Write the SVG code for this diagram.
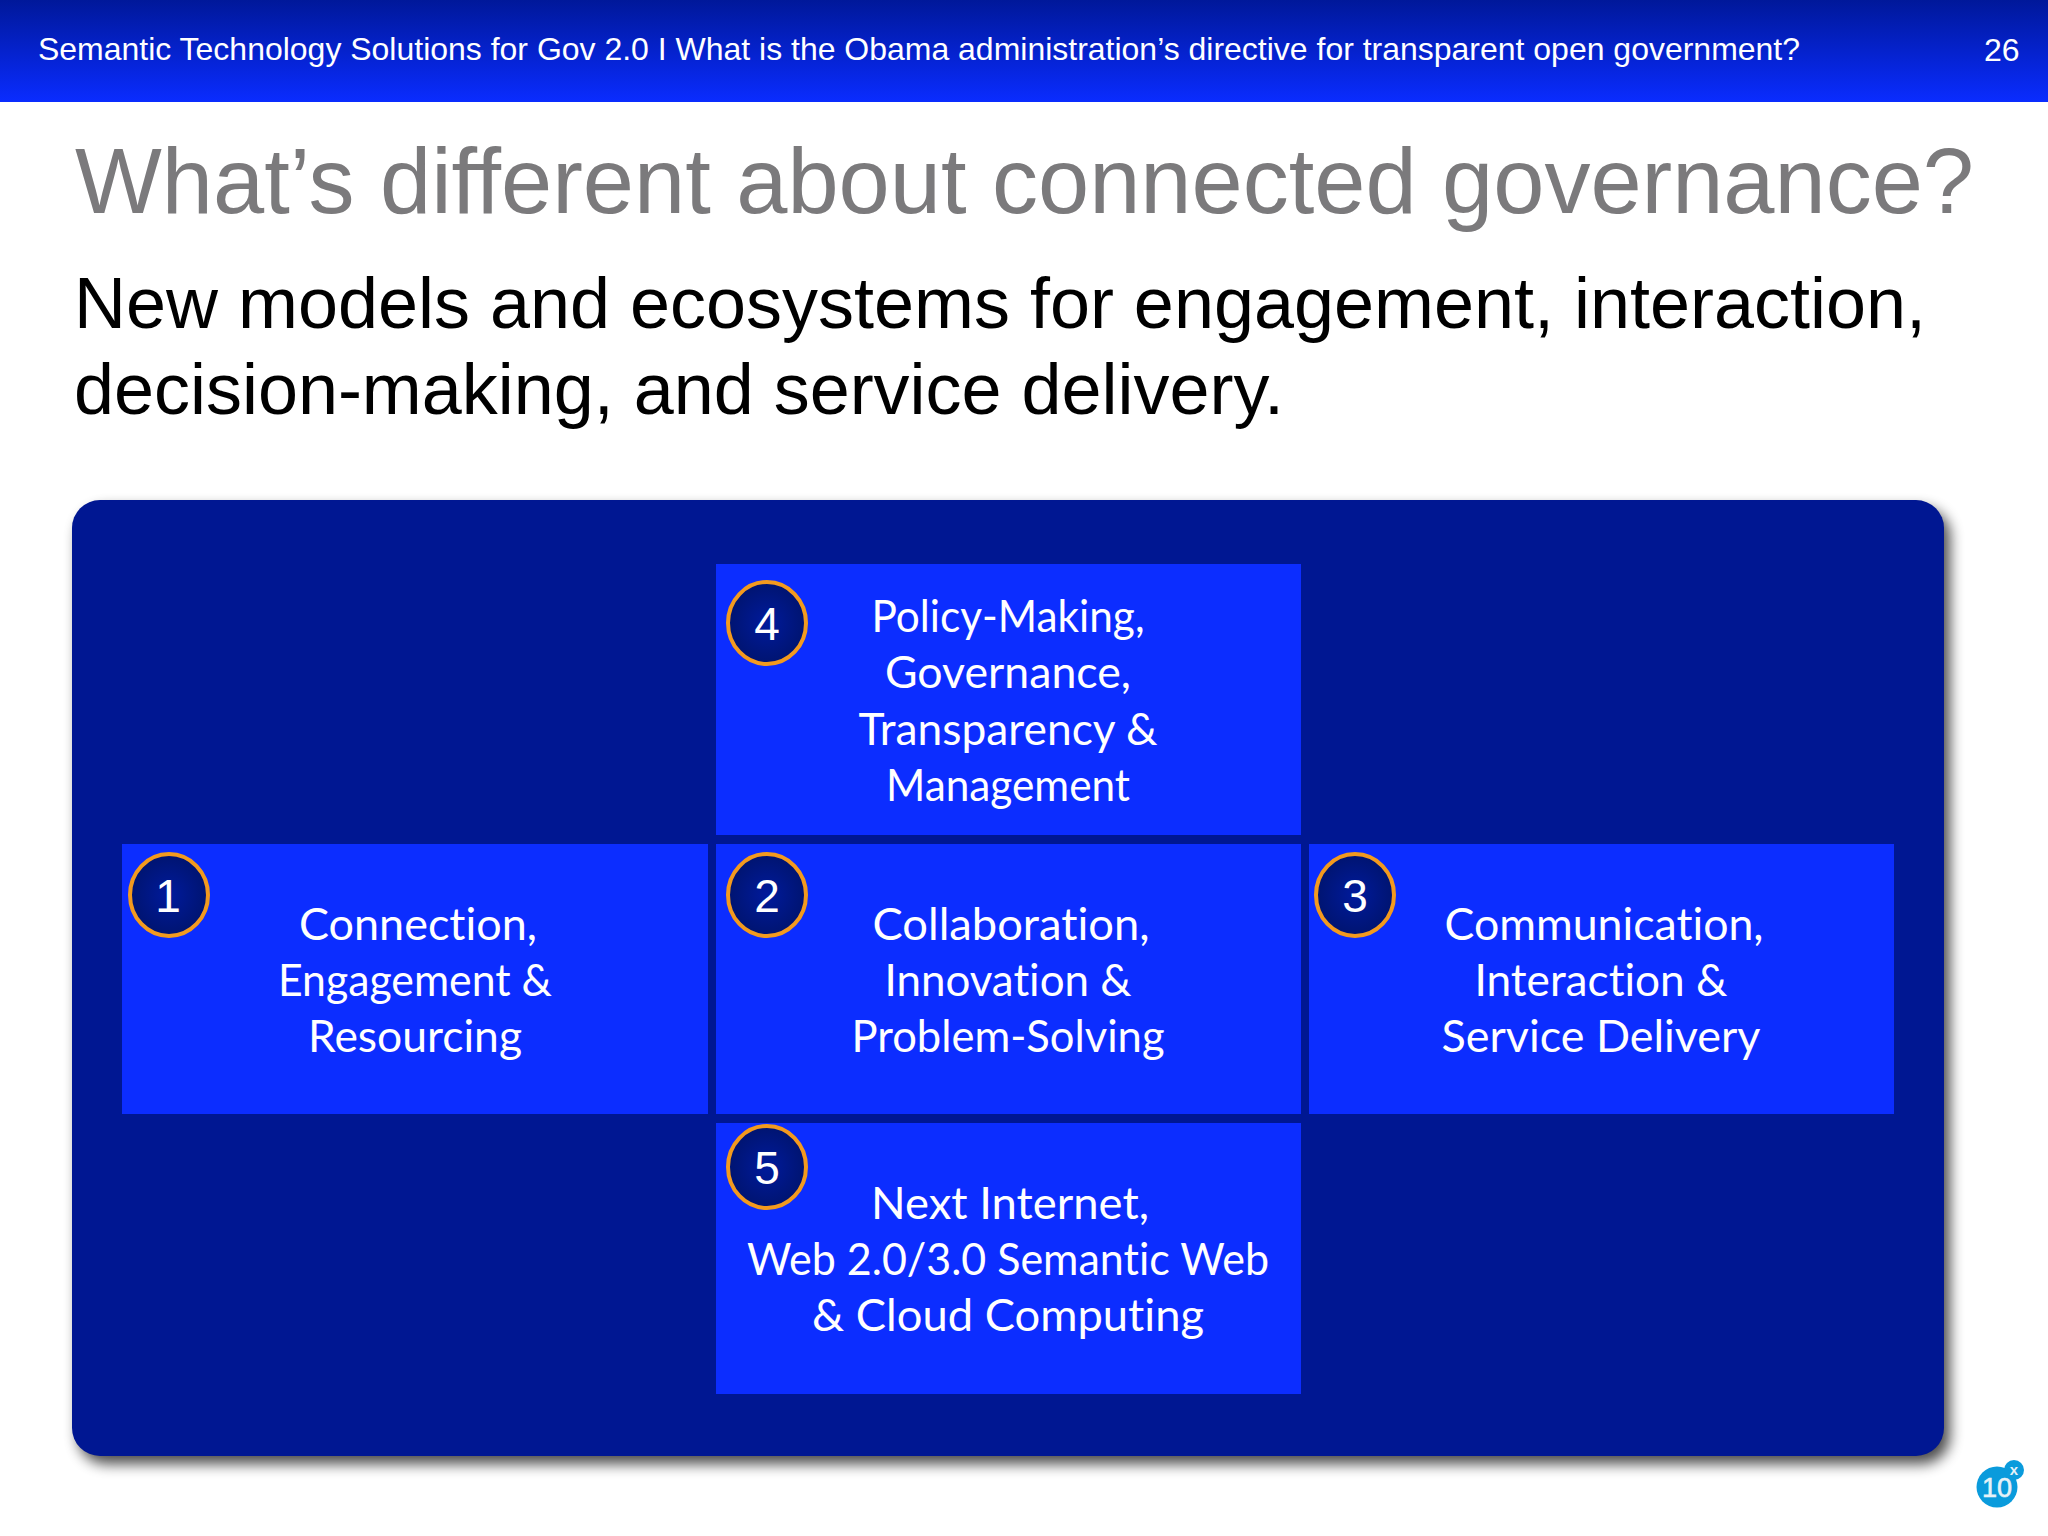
<svg xmlns="http://www.w3.org/2000/svg" width="2048" height="1536" viewBox="0 0 2048 1536">
<defs>
<linearGradient id="hdr" x1="0" y1="0" x2="0" y2="1"><stop offset="0" stop-color="#00189a"/><stop offset="1" stop-color="#0a2cff"/></linearGradient>
<radialGradient id="cg" cx="0.5" cy="0.5" r="0.5"><stop offset="0" stop-color="#001a9c"/><stop offset="1" stop-color="#001470"/></radialGradient>
<filter id="sh" x="-5%" y="-5%" width="110%" height="110%"><feGaussianBlur stdDeviation="7"/></filter>
</defs>
<style>
.sans{font-family:"Liberation Sans",Arial,sans-serif}
.box{fill:#0c2dff}
.lbl{font-family:"Lato","Noto Sans",sans-serif;font-size:45px;fill:#fff;text-anchor:middle;font-variant-ligatures:none}
.c{fill:url(#cg);stroke:#f39a1e;stroke-width:4}
.n{font-family:"Liberation Sans",Arial,sans-serif;font-size:46px;fill:#fff;text-anchor:middle}
</style>
<rect width="2048" height="1536" fill="#fff"/>
<g id="header">
<rect width="2048" height="102" fill="url(#hdr)"/>
<text class="sans" x="38" y="60" font-size="32" fill="#fff" textLength="1762" lengthAdjust="spacingAndGlyphs">Semantic Technology Solutions for Gov 2.0 I What is the Obama administration’s directive for transparent open government?</text>
<text class="sans" x="1984" y="61" font-size="32" fill="#fff">26</text>
</g>
<text class="sans" x="75" y="213" font-size="92" fill="#7b7a7c" textLength="1899" lengthAdjust="spacingAndGlyphs">What’s different about connected governance?</text>
<text class="sans" x="74" y="328" font-size="72" fill="#000" textLength="1852" lengthAdjust="spacingAndGlyphs">New models and ecosystems for engagement, interaction,</text>
<text class="sans" x="74" y="414" font-size="72" fill="#000" textLength="1210" lengthAdjust="spacingAndGlyphs">decision-making, and service delivery.</text>
<g id="panel">
<rect x="78" y="508" width="1872" height="956" rx="28" fill="#000" opacity="0.7" filter="url(#sh)"/>
<rect x="72" y="500" width="1872" height="956" rx="28" fill="#001792"/>
</g>
<g id="node4"><rect class="box" x="716" y="564" width="585" height="271"/>
<text class="lbl" x="1008" y="632" textLength="273" lengthAdjust="spacingAndGlyphs">Policy-Making,</text><text class="lbl" x="1008" y="688" textLength="246" lengthAdjust="spacingAndGlyphs">Governance,</text><text class="lbl" x="1008" y="745" textLength="299" lengthAdjust="spacingAndGlyphs">Transparency &amp;</text><text class="lbl" x="1008" y="801" textLength="244" lengthAdjust="spacingAndGlyphs">Management</text>
<ellipse class="c" cx="767" cy="623" rx="39" ry="41"/><text class="n" x="767" y="640">4</text></g>
<g id="node1"><rect class="box" x="122" y="844" width="586" height="270"/>
<text class="lbl" x="418" y="940" textLength="238" lengthAdjust="spacingAndGlyphs">Connection,</text><text class="lbl" x="415" y="996" textLength="274" lengthAdjust="spacingAndGlyphs">Engagement &amp;</text><text class="lbl" x="415" y="1052" textLength="214" lengthAdjust="spacingAndGlyphs">Resourcing</text>
<ellipse class="c" cx="169" cy="895" rx="39" ry="41"/><text class="n" x="168" y="912">1</text></g>
<g id="node2"><rect class="box" x="716" y="844" width="585" height="270"/>
<text class="lbl" x="1011" y="940" textLength="277" lengthAdjust="spacingAndGlyphs">Collaboration,</text><text class="lbl" x="1008" y="996" textLength="247" lengthAdjust="spacingAndGlyphs">Innovation &amp;</text><text class="lbl" x="1008" y="1052" textLength="313" lengthAdjust="spacingAndGlyphs">Problem-Solving</text>
<ellipse class="c" cx="767" cy="895" rx="39" ry="41"/><text class="n" x="767" y="912">2</text></g>
<g id="node3"><rect class="box" x="1309" y="844" width="585" height="270"/>
<text class="lbl" x="1604" y="940" textLength="319" lengthAdjust="spacingAndGlyphs">Communication,</text><text class="lbl" x="1601" y="996" textLength="253" lengthAdjust="spacingAndGlyphs">Interaction &amp;</text><text class="lbl" x="1601" y="1052" textLength="319" lengthAdjust="spacingAndGlyphs">Service Delivery</text>
<ellipse class="c" cx="1355" cy="895" rx="39" ry="41"/><text class="n" x="1355" y="912">3</text></g>
<g id="node5"><rect class="box" x="716" y="1123" width="585" height="271"/>
<text class="lbl" x="1010" y="1219" textLength="278" lengthAdjust="spacingAndGlyphs">Next Internet,</text><text class="lbl" x="1008" y="1275" textLength="522" lengthAdjust="spacingAndGlyphs">Web 2.0/3.0 Semantic Web</text><text class="lbl" x="1008" y="1331" textLength="392" lengthAdjust="spacingAndGlyphs">&amp; Cloud Computing</text>
<ellipse class="c" cx="767" cy="1167" rx="39" ry="41"/><text class="n" x="767" y="1184">5</text></g>
<g id="badge">
<circle cx="1997" cy="1487" r="20.500" fill="#0a9bdc"/><circle cx="2014" cy="1470" r="10" fill="#0a9bdc"/>
<text class="sans" x="1997" y="1497" font-size="27" fill="#e6f2f8" stroke="#e6f2f8" stroke-width="0.6" text-anchor="middle">10</text>
<text class="sans" x="2014" y="1475" font-size="15" font-weight="bold" fill="#e6f2f8" text-anchor="middle">x</text>
</g>
</svg>
